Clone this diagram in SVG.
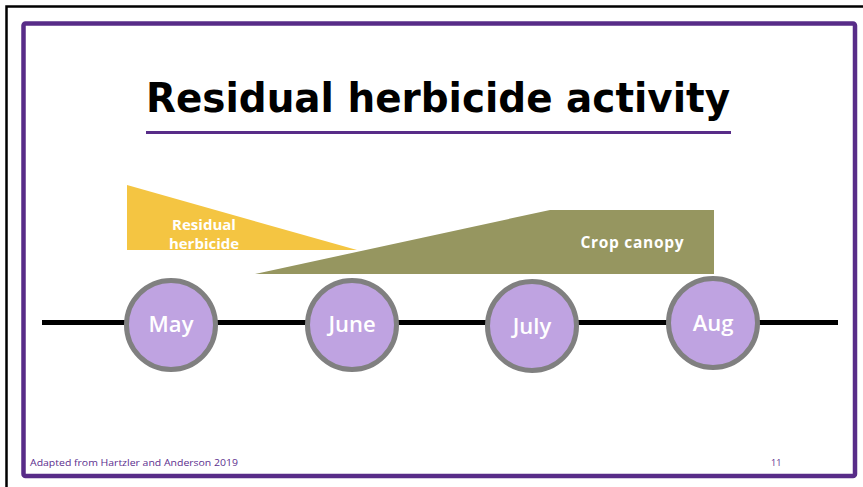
<svg xmlns="http://www.w3.org/2000/svg" width="863" height="487" viewBox="0 0 863 487">
  <style>
    .month circle { fill: #BFA3E1; stroke: #808080; stroke-width: 5; }
    .month text { fill: #FFFFFF; font-family: "Open Sans", "DejaVu Sans", sans-serif; font-weight: 600; font-size: 22px; text-anchor: middle; }
    .lbl { fill: #FFFFFF; font-family: "Open Sans", "DejaVu Sans", sans-serif; font-weight: 700; text-anchor: middle; }
    .foot { fill: #5B2D8E; font-family: "Open Sans", "DejaVu Sans", sans-serif; font-size: 9px; }
  </style>
  <rect x="0" y="0" width="863" height="487" fill="#FFFFFF"/>
  <!-- outer black frame -->
  <path d="M6.5,487 V6.5 H863" fill="none" stroke="#000000" stroke-width="2.5"/>
  <!-- purple slide border -->
  <rect x="23.5" y="23.5" width="831.5" height="452.5" rx="2" fill="#FFFFFF" stroke="#582C88" stroke-width="4.5"/>

  <g id="title">
    <text x="438" y="112" font-family="DejaVu Sans, sans-serif" font-weight="700" font-size="40" text-anchor="middle" textLength="584" lengthAdjust="spacingAndGlyphs" fill="#000000">Residual herbicide activity</text>
    <line x1="146" y1="132.5" x2="731" y2="132.5" stroke="#582C88" stroke-width="3"/>
  </g>

  <g id="residual">
    <polygon points="127,185 127,250 357,250" fill="#F4C542"/>
    <text class="lbl" x="204" y="230" font-size="15">Residual</text>
    <text class="lbl" x="204" y="249" font-size="15">herbicide</text>
  </g>

  <g id="canopy">
    <polygon points="255,274 550,210 714,210 714,274" fill="#969660"/>
    <text class="lbl" x="632" y="248" font-size="15.5" textLength="103" lengthAdjust="spacing">Crop canopy</text>
  </g>

  <g id="connectors">
    <line x1="42" y1="322.5" x2="838" y2="322.5" stroke="#000000" stroke-width="5"/>
  </g>

  <g id="may" class="month">
    <circle cx="171" cy="325" r="44.5"/>
    <text x="171" y="332">May</text>
  </g>
  <g id="june" class="month">
    <circle cx="352" cy="325" r="44.5"/>
    <text x="352" y="332">June</text>
  </g>
  <g id="july" class="month">
    <circle cx="532" cy="326" r="44.5"/>
    <text x="532" y="334">July</text>
  </g>
  <g id="aug" class="month">
    <circle cx="713" cy="323" r="44.5"/>
    <text x="713" y="331">Aug</text>
  </g>

  <g id="footer">
    <text class="foot" x="30" y="466" textLength="208" lengthAdjust="spacingAndGlyphs">Adapted from Hartzler and Anderson 2019</text>
    <text class="foot" x="771" y="466">11</text>
  </g>
</svg>
